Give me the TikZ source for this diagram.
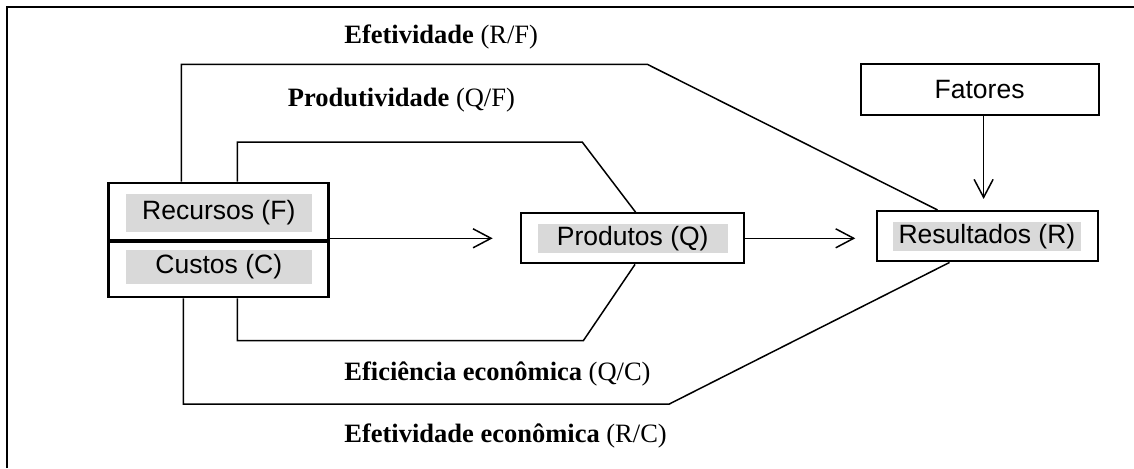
\documentclass[tikz,border=0pt]{standalone}
\usepackage{fontspec}
\setmainfont{Liberation Serif}
\setsansfont{Liberation Sans}
\usetikzlibrary{arrows.meta,calc}
\tikzset{>={Straight Barb[length=9pt,width=9.5pt]}}

\begin{document}
\begin{tikzpicture}[x=0.5pt, y=-0.5pt]
      \tikzset{box style/.style={draw,line width=1.1pt,inner sep=0pt,font=\sffamily\fontsize{13.25}{15}\selectfont}}
      \tikzset{shade/.style={fill=black!15,inner sep=0pt,font=\sffamily\fontsize{13.25}{15}\selectfont}}
      \tikzset{link/.style={line width=0.75pt}}
      \tikzset{ratio/.style={anchor=base west,inner sep=0pt,font=\fontsize{13.25}{15}\selectfont}}

      \useasboundingbox (0,0) rectangle (1134,468);
      \draw [line width=1pt] (7,468) -- (7,7) -- (1134,7);

      % caixas
      \node [box style, minimum width=110pt, minimum height=28.5pt] (rec) at (218.4,211.2) {};
      \node [box style, minimum width=110pt, minimum height=27.65pt, anchor=north] (cus) at (rec.south) {};
      \node [shade, minimum width=93pt, minimum height=19pt] (recT) at (218.8,213) {Recursos (F)};
      \node [shade, minimum width=93pt, minimum height=17pt] (cusT) at (218.8,267) {Custos (C)};

      \node [box style, minimum width=111.65pt, minimum height=25pt] (prod) at (632.4,238.3) {};
      \node [shade, minimum width=95pt, minimum height=14.35pt] (prodT) at (632.7,238.3) {Produtos (Q)};

      \node [box style, minimum width=110.5pt, minimum height=25.15pt] (res) at (987.5,236.2) {};
      \node [shade, minimum width=93.65pt, minimum height=14.35pt] (resT) at (986.9,236.3) {Resultados (R)};

      \node [box style, minimum width=119pt, minimum height=25.35pt] (fat) at (979.6,89.7) {Fatores};

      % setas
      \draw [link, ->, shorten >=13.5pt] (rec.south east |- prod.west) -- (prod.west);
      \draw [link, ->, shorten >=10.3pt] (prod.east) -- (prod.east -| res.west);
      \coordinate (fatS) at ([xshift=2pt]fat.south);
      \draw [link, ->, shorten >=5.5pt] (fatS) -- (fatS |- res.north);

      % relacoes
      \coordinate (efA) at ([xshift=37pt]rec.north west);
      \coordinate (efB) at (647.3,64.3);
      \coordinate (efC) at ([xshift=-25pt]res.north);
      \draw [link] (efA) |- (efB) -- (efC);

      \coordinate (prA) at ([xshift=65pt]rec.north west);
      \coordinate (prB) at (582.2,142);
      \draw [link] (prA) |- (prB) -- ([xshift=1.6pt]prod.north);

      \coordinate (eeA) at ([xshift=65pt]cus.south west);
      \coordinate (eeB) at (583.3,340.7);
      \draw [link] (eeA) |- (eeB) -- ([xshift=1.3pt]prod.south);

      \coordinate (xeA) at ([xshift=38pt]cus.south west);
      \coordinate (xeB) at (669.3,404);
      \coordinate (xeC) at ([xshift=-19pt]res.south);
      \draw [link] (xeA) |- (xeB) -- (xeC);

      \node [ratio] (efL) at (344,43.3) {\textbf{Efetividade} (R/F)};
      \node [ratio] (prL) at (287.5,106.7) {\textbf{Produtividade} (Q/F)};
      \node [ratio] (eeL) at (344,380.7) {\textbf{Eficiência econômica} (Q/C)};
      \node [ratio] (xeL) at (344,442.3) {\textbf{Efetividade econômica} (R/C)};
\end{tikzpicture}
\end{document}
